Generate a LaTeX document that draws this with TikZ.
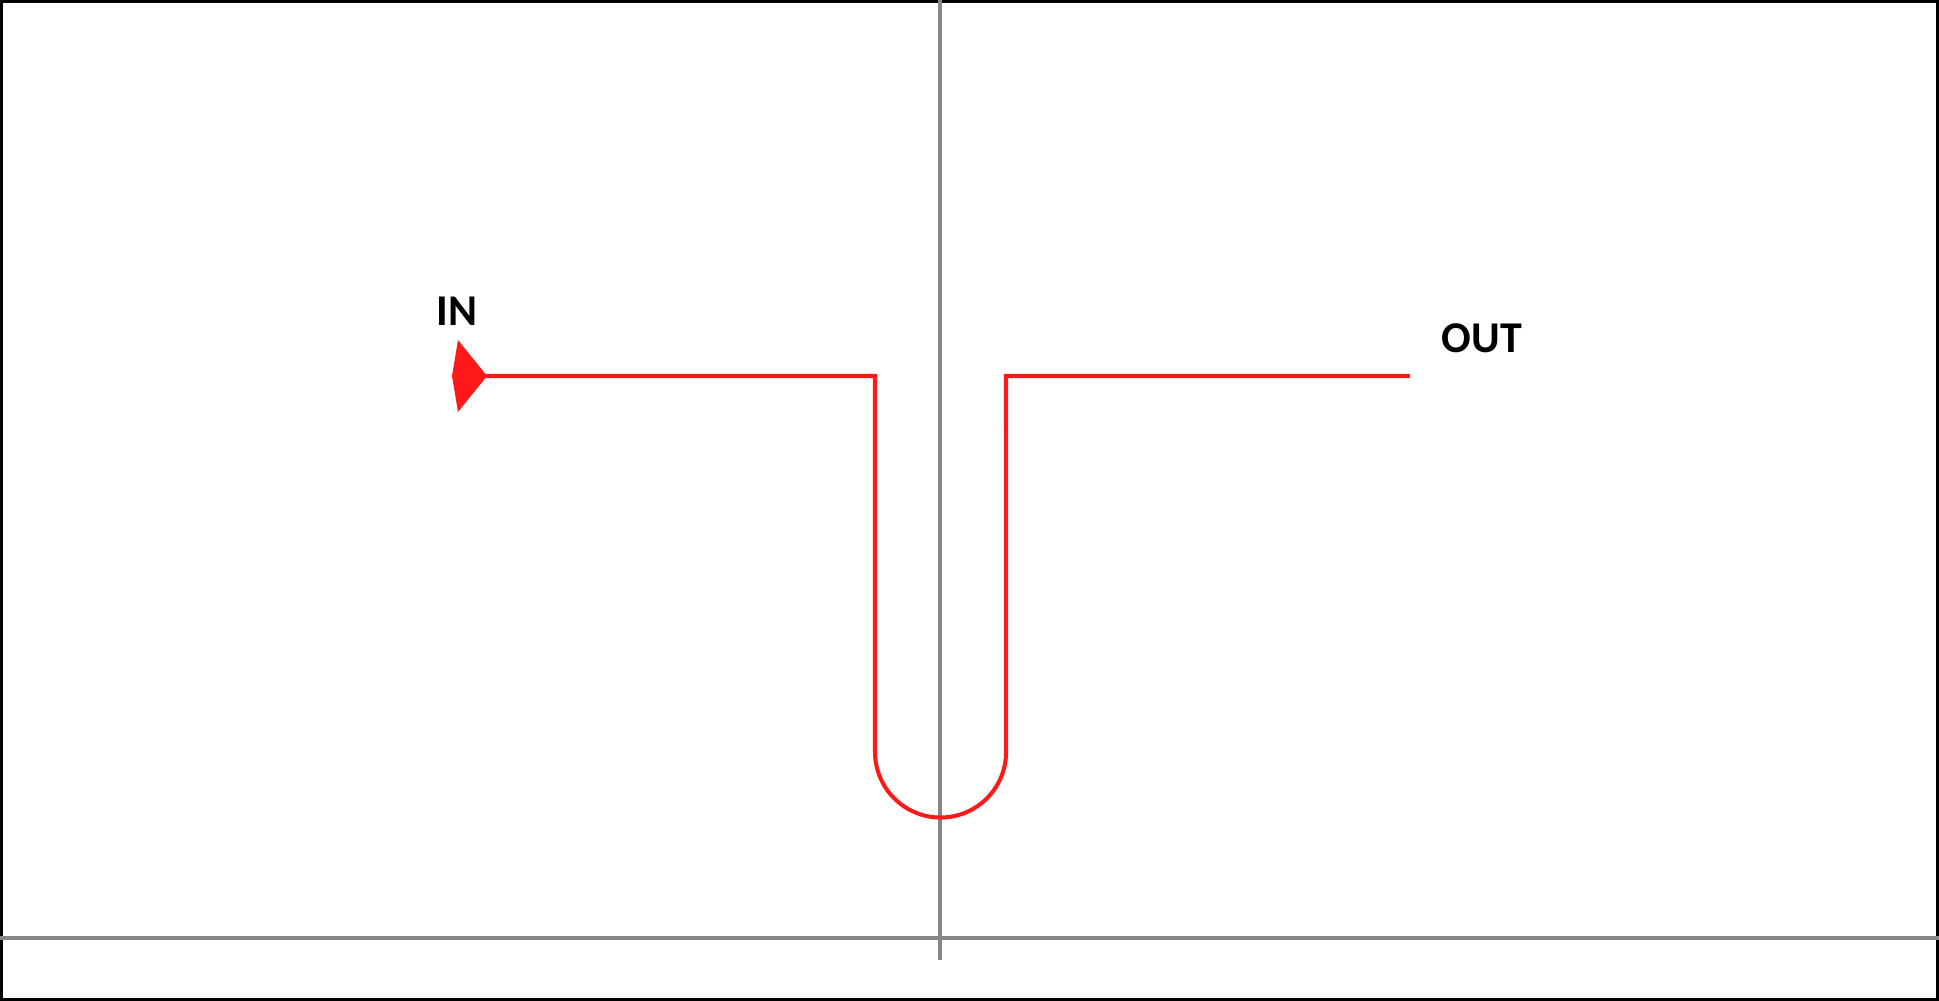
\documentclass[tikz,border=0pt]{standalone}
\usepackage{fontspec}
\setmainfont{Carlito}
\usetikzlibrary{positioning}
\usetikzlibrary{arrows.meta}
\definecolor{axisgray}{rgb}{0.53, 0.53, 0.53}
\definecolor{routered}{rgb}{1.0, 0.1, 0.1}

\begin{document}
\begin{tikzpicture}[x=0.01cm, y=-0.01cm]
  \tikzset{axisline/.style = {draw=axisgray, line width=1.4pt},
           route/.style = {draw=routered, line width=1.15pt},
           tag/.style = {font=\bfseries\fontsize{12.5}{14}\selectfont, inner sep=0pt}}

  \useasboundingbox (0,0) rectangle (1939,1001);
  \draw[line width=0.03cm] (1.5,1.5) rectangle (1937.5,999.5);

  % axes
  \coordinate (vtop) at (940,0);
  \coordinate (vbot) at (940,960);
  \coordinate (hleft) at (0,938);
  \coordinate (hright) at (1939,938);
  \draw[axisline] (vtop) -- (vbot);
  \draw[axisline] (hleft) -- (hright);

  % route corners
  \coordinate (start) at (452,376);
  \coordinate (c1) at (875,376);
  \coordinate (c2) at (875,752);
  \coordinate (c3) at (1006,376);
  \coordinate (stop) at (1410,376);

  \node[tag] (in) at (457,311) {IN};
  \node[tag] (out) at (1482,338) {OUT};

  \draw[route, {Kite[reversed, length=0.35cm, width=0.72cm, inset=0.06cm, fill=routered]}-]
    (start) -- (c1) -- (c2) arc[start angle=180, end angle=360, radius=0.655cm] -- (c3) -- (stop);
\end{tikzpicture}
\end{document}
